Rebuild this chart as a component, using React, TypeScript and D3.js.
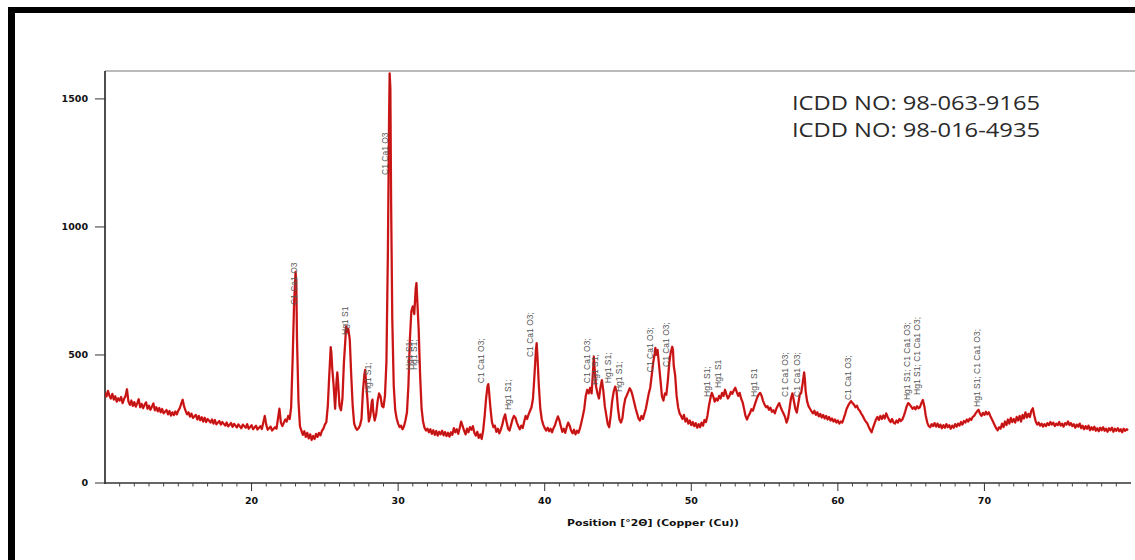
import React from 'react';
import * as d3 from 'd3';

// scan: [2theta, counts]
const xrdScan: [number, number][] = [
  [10.0,352],[10.1,338],[10.2,360],[10.3,341],[10.4,330],[10.5,348],[10.6,326],[10.7,339],[10.8,318],[10.9,331],
  [11.0,322],[11.1,336],[11.2,312],[11.3,328],[11.4,340],[11.5,366],[11.6,318],[11.7,305],[11.8,322],[11.9,301],
  [12.0,316],[12.1,298],[12.2,312],[12.3,327],[12.4,296],[12.5,309],[12.6,292],[12.7,305],[12.8,315],[12.9,290],
  [13.0,302],[13.1,286],[13.2,298],[13.3,311],[13.4,284],[13.5,296],[13.6,280],[13.7,293],[13.8,276],[13.9,289],
  [14.0,272],[14.2,285],[14.3,268],[14.4,281],[14.5,263],[14.6,276],[14.7,265],[14.8,279],[14.9,268],[15.0,283],
  [15.1,292],[15.2,310],[15.3,325],[15.4,298],[15.5,282],[15.6,268],[15.7,276],[15.8,259],[15.9,271],[16.0,254],
  [16.2,266],[16.3,248],[16.4,262],[16.5,245],[16.6,257],[16.7,240],[16.8,255],[16.9,238],[17.0,250],[17.2,236],
  [17.3,248],[17.4,232],[17.5,246],[17.6,229],[17.8,242],[17.9,228],[18.0,238],[18.2,224],[18.3,236],[18.4,221],
  [18.6,234],[18.7,219],[18.8,231],[19.0,217],[19.1,229],[19.3,214],[19.4,228],[19.6,216],[19.7,230],[19.8,212],
  [20.0,226],[20.1,210],[20.3,224],[20.4,209],[20.6,222],[20.7,211],[20.9,262],[21.0,228],[21.1,208],[21.3,220],
  [21.4,205],[21.6,218],[21.7,212],[21.9,290],[22.0,236],[22.1,222],[22.3,248],[22.4,240],[22.5,262],[22.6,250],
  [22.7,296],[22.8,480],[22.9,700],[23.0,824],[23.05,790],[23.1,560],[23.2,320],[23.3,222],[23.4,205],[23.5,188],
  [23.6,202],[23.7,180],[23.8,196],[23.9,174],[24.0,190],[24.1,168],[24.2,184],[24.3,172],[24.4,192],[24.5,180],
  [24.6,196],[24.7,186],[24.8,204],[24.9,212],[25.0,228],[25.1,238],[25.2,300],[25.3,420],[25.4,531],[25.45,505],
  [25.5,450],[25.6,380],[25.7,290],[25.8,400],[25.85,432],[25.9,395],[26.0,300],[26.1,284],[26.2,330],[26.3,470],
  [26.4,560],[26.45,612],[26.5,590],[26.6,602],[26.7,560],[26.8,420],[26.9,300],[27.0,232],[27.1,216],[27.2,208],
  [27.3,214],[27.4,226],[27.5,250],[27.6,360],[27.7,425],[27.75,442],[27.8,400],[27.9,330],[28.0,240],[28.1,262],
  [28.2,318],[28.25,326],[28.3,280],[28.4,244],[28.5,268],[28.6,320],[28.7,350],[28.8,338],[28.9,300],[29.0,296],
  [29.1,340],[29.2,470],[29.3,900],[29.38,1420],[29.42,1600],[29.47,1540],[29.52,1100],[29.6,640],[29.7,380],[29.8,285],
  [29.9,252],[30.0,232],[30.1,218],[30.2,224],[30.3,210],[30.4,222],[30.5,245],[30.6,275],[30.7,380],[30.8,560],
  [30.9,670],[31.0,690],[31.1,660],[31.2,760],[31.25,781],[31.3,720],[31.4,600],[31.5,420],[31.6,290],[31.7,240],
  [31.8,216],[31.9,205],[32.0,212],[32.1,198],[32.2,210],[32.3,192],[32.4,206],[32.5,188],[32.6,203],[32.7,185],
  [32.8,200],[32.9,190],[33.0,204],[33.1,186],[33.2,199],[33.3,183],[33.4,196],[33.5,181],[33.6,198],[33.7,188],
  [33.8,214],[33.9,198],[34.0,210],[34.1,192],[34.2,215],[34.3,240],[34.4,222],[34.5,205],[34.6,190],[34.7,212],
  [34.8,198],[34.9,218],[35.0,208],[35.1,222],[35.2,196],[35.3,185],[35.4,200],[35.5,176],[35.6,190],[35.7,172],
  [35.8,205],[35.9,260],[36.0,330],[36.1,378],[36.15,386],[36.2,360],[36.3,290],[36.4,238],[36.5,218],[36.6,224],
  [36.7,200],[36.8,212],[36.9,194],[37.0,208],[37.1,226],[37.2,252],[37.3,268],[37.4,238],[37.5,212],[37.6,205],
  [37.7,226],[37.8,248],[37.9,262],[38.0,255],[38.1,236],[38.2,222],[38.3,210],[38.4,224],[38.5,215],[38.6,240],
  [38.7,262],[38.8,250],[38.9,268],[39.0,282],[39.1,296],[39.2,330],[39.3,420],[39.4,520],[39.45,546],[39.5,500],
  [39.6,380],[39.7,290],[39.8,248],[39.9,228],[40.0,214],[40.1,205],[40.2,216],[40.3,202],[40.4,212],[40.5,198],
  [40.6,214],[40.7,226],[40.8,244],[40.9,260],[41.0,245],[41.1,222],[41.2,200],[41.3,212],[41.4,196],[41.5,218],
  [41.6,236],[41.7,224],[41.8,205],[41.9,194],[42.0,208],[42.1,190],[42.2,204],[42.3,196],[42.4,212],[42.5,236],
  [42.6,262],[42.7,290],[42.8,340],[42.9,364],[43.0,350],[43.1,372],[43.2,350],[43.3,440],[43.35,493],[43.4,450],
  [43.5,378],[43.6,350],[43.7,330],[43.8,372],[43.9,402],[44.0,360],[44.1,300],[44.2,265],[44.3,230],[44.4,218],
  [44.5,262],[44.6,320],[44.7,355],[44.8,376],[44.9,360],[45.0,290],[45.1,248],[45.2,236],[45.3,252],[45.4,300],
  [45.5,330],[45.6,342],[45.7,356],[45.8,370],[45.9,360],[46.0,340],[46.1,316],[46.2,292],[46.3,272],[46.4,252],
  [46.5,244],[46.6,262],[46.7,250],[46.8,270],[46.9,290],[47.0,320],[47.1,350],[47.2,372],[47.3,420],[47.4,470],
  [47.5,505],[47.55,528],[47.6,500],[47.7,520],[47.8,460],[47.9,400],[48.0,338],[48.1,322],[48.2,350],[48.3,345],
  [48.4,400],[48.5,470],[48.6,510],[48.7,532],[48.75,520],[48.8,460],[48.9,420],[49.0,340],[49.1,296],[49.2,272],
  [49.3,262],[49.4,250],[49.5,266],[49.6,240],[49.7,252],[49.8,232],[49.9,244],[50.0,226],[50.1,238],[50.2,222],
  [50.3,234],[50.4,216],[50.5,230],[50.6,218],[50.7,236],[50.8,224],[50.9,246],[51.0,238],[51.1,262],[51.2,300],
  [51.3,330],[51.4,352],[51.5,338],[51.6,318],[51.7,330],[51.8,322],[51.9,340],[52.0,330],[52.1,352],[52.2,340],
  [52.3,364],[52.4,345],[52.5,330],[52.6,340],[52.7,356],[52.8,348],[52.9,362],[53.0,372],[53.1,356],[53.2,340],
  [53.3,352],[53.4,330],[53.5,316],[53.6,290],[53.7,262],[53.8,248],[53.9,262],[54.0,272],[54.1,288],[54.2,282],
  [54.3,300],[54.4,318],[54.5,334],[54.6,346],[54.7,352],[54.8,340],[54.9,320],[55.0,306],[55.1,296],[55.2,300],
  [55.3,286],[55.4,294],[55.5,278],[55.6,284],[55.7,272],[55.8,290],[55.9,302],[56.0,312],[56.1,296],[56.2,282],
  [56.3,270],[56.4,258],[56.5,236],[56.6,252],[56.7,290],[56.8,330],[56.9,350],[57.0,320],[57.1,290],[57.2,275],
  [57.3,310],[57.4,345],[57.5,352],[57.6,390],[57.7,432],[57.75,405],[57.8,360],[57.9,320],[58.0,300],[58.1,290],
  [58.2,280],[58.3,272],[58.4,282],[58.5,266],[58.6,276],[58.7,260],[58.8,270],[58.9,256],[59.0,266],[59.1,252],
  [59.2,262],[59.3,248],[59.4,258],[59.5,244],[59.6,252],[59.7,240],[59.8,248],[59.9,236],[60.0,244],[60.1,232],
  [60.2,240],[60.3,236],[60.4,252],[60.5,270],[60.6,290],[60.7,302],[60.8,312],[60.9,320],[61.0,312],[61.1,306],
  [61.2,296],[61.3,302],[61.4,288],[61.5,282],[61.6,270],[61.7,262],[61.8,250],[61.9,240],[62.0,234],[62.1,220],
  [62.2,208],[62.3,198],[62.4,216],[62.5,232],[62.6,248],[62.7,258],[62.8,246],[62.9,262],[63.0,250],[63.1,264],
  [63.2,252],[63.3,272],[63.4,258],[63.5,246],[63.6,238],[63.7,250],[63.8,236],[63.9,232],[64.0,244],[64.1,236],
  [64.2,250],[64.3,242],[64.4,248],[64.5,262],[64.6,280],[64.7,300],[64.8,312],[64.9,306],[65.0,298],[65.1,290],
  [65.2,296],[65.3,288],[65.4,300],[65.5,292],[65.6,296],[65.7,312],[65.8,324],[65.9,300],[66.0,262],[66.1,236],
  [66.2,222],[66.3,218],[66.4,230],[66.5,222],[66.6,234],[66.7,220],[66.8,232],[66.9,218],[67.0,228],[67.1,214],
  [67.2,226],[67.3,216],[67.4,230],[67.5,218],[67.6,226],[67.7,212],[67.8,224],[67.9,216],[68.0,230],[68.1,220],
  [68.2,232],[68.3,224],[68.4,238],[68.5,228],[68.6,242],[68.7,236],[68.8,248],[68.9,240],[69.0,252],[69.1,246],
  [69.2,258],[69.3,262],[69.4,272],[69.5,280],[69.6,286],[69.7,270],[69.8,262],[69.9,274],[70.0,266],[70.1,278],
  [70.2,268],[70.3,276],[70.4,262],[70.5,250],[70.6,238],[70.7,226],[70.8,214],[70.9,206],[71.0,218],[71.1,212],
  [71.2,232],[71.3,218],[71.4,240],[71.5,226],[71.6,248],[71.7,232],[71.8,254],[71.9,238],[72.0,250],[72.1,236],
  [72.2,258],[72.3,244],[72.4,262],[72.5,240],[72.6,266],[72.7,252],[72.8,276],[72.9,256],[73.0,270],[73.1,258],
  [73.2,282],[73.3,292],[73.4,264],[73.5,240],[73.6,228],[73.7,236],[73.8,224],[73.9,232],[74.0,220],[74.1,230],
  [74.2,222],[74.3,234],[74.4,226],[74.5,238],[74.6,228],[74.7,236],[74.8,222],[74.9,232],[75.0,226],[75.1,238],
  [75.2,224],[75.3,232],[75.4,220],[75.5,234],[75.6,228],[75.7,240],[75.8,226],[75.9,234],[76.0,222],[76.1,230],
  [76.2,216],[76.3,228],[76.4,220],[76.5,232],[76.6,214],[76.7,224],[76.8,210],[76.9,222],[77.0,212],[77.1,224],
  [77.2,206],[77.3,218],[77.4,208],[77.5,220],[77.6,204],[77.7,214],[77.8,202],[77.9,216],[78.0,206],[78.1,218],
  [78.2,204],[78.3,212],[78.4,200],[78.5,214],[78.6,206],[78.7,216],[78.8,200],[78.9,212],[79.0,204],[79.1,214],
  [79.2,202],[79.3,210],[79.4,198],[79.5,212],[79.6,204],[79.7,210],[79.8,206],
];

// phase labels: [2theta, counts at label foot, text]
const peakLabels: [number, number, string][] = [
  [22.9, 695, 'C1 Ca1 O3'],
  [26.35, 578, 'Hg1 S1'],
  [27.95, 351, 'Hg1 S1;'],
  [29.1, 1203, 'C1 Ca1 O3'],
  [30.75, 441, 'Hg1 S1;'],
  [31.05, 441, 'Hg1 S1;'],
  [35.65, 390, 'C1 Ca1 O3;'],
  [37.5, 285, 'Hg1 S1;'],
  [39.0, 492, 'C1 Ca1 O3;'],
  [42.9, 390, 'C1 Ca1 O3;'],
  [43.45, 383, 'Hg1 S1;'],
  [44.3, 390, 'Hg1 S1;'],
  [45.05, 355, 'Hg1 S1;'],
  [47.2, 433, 'C1 Ca1 O3;'],
  [48.3, 453, 'C1 Ca1 O3;'],
  [51.05, 336, 'Hg1 S1;'],
  [51.8, 371, 'Hg1 S1'],
  [54.3, 336, 'Hg1 S1'],
  [56.4, 336, 'C1 Ca1 O3;'],
  [57.2, 336, 'C1 Ca1 O3;'],
  [60.7, 324, 'C1 Ca1 O3;'],
  [64.7, 324, 'Hg1 S1; C1 Ca1 O3;'],
  [65.4, 344, 'Hg1 S1; C1 Ca1 O3;'],
  [69.5, 297, 'Hg1 S1; C1 Ca1 O3;'],
];

const xMajorTicks = [20, 30, 40, 50, 60, 70];
const yTicks = [0, 500, 1000, 1500];
const icddRefs = ['ICDD NO: 98-063-9165', 'ICDD NO: 98-016-4935'];
const xTitle = 'Position [°2Θ] (Copper (Cu))';

const W = 1135;
const H = 560;
const left = 105, right = 1131, top = 71, bottom = 483;

export default function App() {
  const x = d3.scaleLinear().domain([10, 80]).range([left, right]);
  const y = d3.scaleLinear().domain([0, 1609]).range([bottom, top]);
  const line = d3.line<[number, number]>().x((d) => x(d[0])).y((d) => y(d[1]));
  const path = line(xrdScan) || '';
  const minor = d3.range(11, 80).filter((v) => v % 10 !== 0);
  const tickFont = '"DejaVu Sans", sans-serif';

  return (
    <svg width={W} height={H} style={{position: 'fixed', left: 0, top: 0, background: '#fff'}}>
      <rect x={0} y={0} width={W} height={H} fill="#fff" />
      {/* outer frame */}
      <rect x={8} y={7} width={W - 8} height={6} fill="#000" />
      <rect x={8} y={7} width={7} height={H - 7} fill="#000" />

      <defs>
        <clipPath id="plotClip">
          <rect x={left} y={top} width={W - left} height={bottom - top} />
        </clipPath>
      </defs>

      {/* plot box */}
      <line x1={left} x2={W} y1={top} y2={top} stroke="#777" strokeWidth={1.2} />
      <line x1={left} x2={left} y1={top} y2={bottom + 1} stroke="#222" strokeWidth={1.6} />
      <line x1={left} x2={right} y1={bottom} y2={bottom} stroke="#333" strokeWidth={1.3} />

      {/* y axis */}
      {yTicks.map((t) => (
        <g key={'y' + t}>
          <line x1={left - 10} x2={left} y1={y(t)} y2={y(t)} stroke="#333" strokeWidth={1} />
          <text x={left - 17} y={y(t)} dy="0.35em" textAnchor="end" fontFamily={tickFont}
            fontWeight="bold" fontSize={9.5} fill="#111">{t}</text>
        </g>
      ))}

      {/* x axis */}
      {minor.map((t) => (
        <line key={'m' + t} x1={x(t)} x2={x(t)} y1={bottom} y2={bottom + 3.5} stroke="#444" strokeWidth={1} />
      ))}
      {xMajorTicks.map((t) => (
        <g key={'x' + t}>
          <line x1={x(t)} x2={x(t)} y1={bottom} y2={bottom + 8} stroke="#333" strokeWidth={1} />
          <text x={x(t)} y={bottom + 21} textAnchor="middle" fontFamily={tickFont}
            fontWeight="bold" fontSize={9.5} fill="#111">{t}</text>
        </g>
      ))}
      <text x={567} y={526} textLength={172} lengthAdjust="spacingAndGlyphs" fontFamily={tickFont}
        fontWeight="bold" fontSize={9.5} fill="#111">{xTitle}</text>

      {/* scan */}
      <g clipPath="url(#plotClip)">
        <path d={path} fill="none" stroke="#e01818" strokeWidth={2.3} strokeLinejoin="round" />
        <path d={path} fill="none" stroke="#5a1515" strokeWidth={0.6} strokeOpacity={0.55} />
      </g>

      {/* peak labels */}
      {peakLabels.map(([p, c, s], i) => (
        <text key={'l' + i} transform={`translate(${x(p) + 3},${y(c)}) rotate(-90)`}
          fontFamily='"Liberation Sans", Arial, sans-serif' fontSize={8.5} fill="#555">{s}</text>
      ))}

      {/* reference cards */}
      {icddRefs.map((s, i) => (
        <text key={'r' + i} x={792} y={110 + i * 26.5} textLength={248} lengthAdjust="spacingAndGlyphs"
          fontFamily='"Open Sans", sans-serif' fontSize={20} fill="#2a2a2a">{s}</text>
      ))}
    </svg>
  );
}
